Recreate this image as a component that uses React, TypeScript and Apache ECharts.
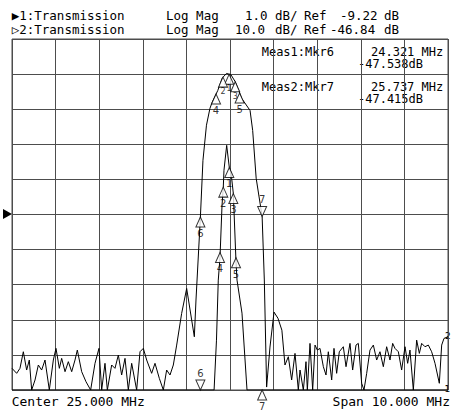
import React, { useEffect, useRef } from 'react';
import * as echarts from 'echarts';

// Sweep settings (from the annotations)
const freqStart = 20;
const freqStop = 30;
const trace1Ref = -9.22; // dB, 1 dB/div
const trace1Scale = 1;
const trace2Ref = -46.84; // dB, 10 dB/div
const trace2Scale = 10;

// Trace 1 (1 dB/div) – narrow view of passband, clipped at bottom edge
const trace1Freq = [20.0, 24.635, 24.69, 24.731, 24.771, 24.817, 24.846, 24.862, 24.924, 24.984, 25.023, 25.076, 25.138, 25.161, 25.275, 25.39, 30.0];
const trace1Value = [-14.22, -14.22, -12.8, -11.09, -10.44, -8.96, -8.44, -7.96, -7.25, -7.88, -8.02, -8.62, -10.58, -11.09, -12.03, -14.22, -14.22];

// Trace 2 (10 dB/div) – full response incl. noise floor
const trace2Freq = [
  20.0, 20.107, 20.183, 20.26, 20.336, 20.397, 20.451, 20.528, 20.604, 20.68, 20.757, 20.856, 20.948, 21.009, 21.086, 21.139,
  21.216, 21.292, 21.369, 21.445, 21.498, 21.598, 21.697, 21.804, 21.904, 21.995, 22.057, 22.133, 22.187, 22.286, 22.362, 22.439,
  22.515, 22.592, 22.668, 22.745, 22.859, 22.936, 23.012, 23.089, 23.203, 23.28, 23.379, 23.471, 23.547, 23.624, 23.7, 23.777,
  23.891, 24.006, 24.182, 24.22, 24.321, 24.38, 24.46, 24.54, 24.59, 24.72, 24.82, 24.92, 25.02, 25.12, 25.2, 25.27, 25.46,
  25.52, 25.6, 25.737, 25.787, 25.84, 25.917, 26.01, 26.1, 26.19, 26.261, 26.338, 26.414, 26.491, 26.567, 26.606, 26.682,
  26.743, 26.774, 26.835, 26.896, 26.95, 27.003, 27.064, 27.141, 27.202, 27.255, 27.332, 27.385, 27.446, 27.507, 27.599, 27.661,
  27.752, 27.813, 27.89, 27.943, 28.02, 28.073, 28.135, 28.211, 28.288, 28.364, 28.44, 28.517, 28.593, 28.67, 28.731, 28.784,
  28.861, 28.937, 29.014, 29.075, 29.128, 29.205, 29.281, 29.343, 29.396, 29.472, 29.549, 29.625, 29.702, 29.801, 29.855, 29.908,
  30.0,
];
const trace2Value = [
  -90.67, -92.09, -90.67, -85.94, -91.15, -88.3, -96.84, -93.99, -89.72, -91.15, -88.3, -96.84, -88.3, -84.98, -90.67, -87.83,
  -91.62, -88.77, -91.62, -88.3, -85.46, -91.62, -94.48, -96.84, -89.24, -84.98, -96.84, -89.24, -96.84, -89.72, -90.67, -86.88,
  -92.57, -87.83, -96.84, -89.24, -96.84, -85.94, -84.98, -88.3, -92.09, -89.24, -93.52, -96.84, -91.15, -92.57, -89.72, -84.04,
  -75.02, -67.91, -81.67, -71.2, -47.538, -31.4, -21.4, -16.6, -14.9, -11.5, -8.0, -6.65, -7.0, -9.0, -11.5, -13.8, -17.2,
  -22.9, -36.5, -47.415, -65.5, -96.0, -84.6, -74.65, -76.4, -79.8, -89.72, -87.36, -93.99, -86.41, -96.84, -91.15, -96.84,
  -88.77, -96.84, -83.56, -96.84, -84.04, -85.46, -84.98, -90.2, -92.57, -85.94, -93.99, -84.98, -92.09, -85.94, -84.51, -90.2,
  -83.56, -91.15, -84.04, -83.56, -94.93, -96.84, -92.09, -85.46, -84.04, -88.3, -85.94, -90.2, -84.51, -88.3, -83.56, -84.98,
  -85.94, -91.15, -84.51, -89.24, -85.46, -96.84, -82.62, -86.41, -83.56, -84.51, -84.04, -85.94, -89.24, -94.93, -84.04, -82.14,
  -81.67,
];

// Markers
const trace1MarkerLabel = ['1', '2', '3', '4', '5', '6', '7'];
const trace1MarkerFreq = [24.984, 24.846, 25.076, 24.771, 25.138, 24.321, 25.737];
const trace1MarkerValue = [-7.88, -8.44, -8.62, -10.3, -10.45, -14.22, -14.22];
const trace1MarkersDown = ['6'];

const trace2MarkerLabel = ['1', '2', '3', '4', '5', '6', '7'];
const trace2MarkerFreq = [24.98, 24.84, 25.12, 24.68, 25.22, 24.321, 25.737];
const trace2MarkerValue = [-6.9, -7.7, -9.0, -12.5, -12.2, -47.538, -47.415];
const trace2MarkersDown = ['7'];
const smallLabelMarkers = ['1', '2', '3'];

const headerRow1 = ['\u25B61:Transmission', 'Log Mag', '1.0', 'dB/', 'Ref', '-9.22', 'dB'];
const headerRow2 = ['\u25B72:Transmission', 'Log Mag', '10.0', 'dB/', 'Ref', '-46.84', 'dB'];
const measLines = ['Meas1:Mkr6', '24.321 MHz', '-47.538dB', 'Meas2:Mkr7', '25.737 MHz', '-47.415dB'];
const footer = ['Center 25.000 MHz', 'Span 10.000 MHz'];

const GRID = '#4d4d4d';
const MONO = "'DejaVu Sans Mono', monospace";

function markerSeries(labels: string[], freqs: number[], vals: number[], down: string[], yAxisIndex: number, small: string[]) {
  return {
    type: 'scatter',
    yAxisIndex,
    clip: false,
    z: 5,
    symbol: 'triangle',
    symbolSize: [9, 10],
    itemStyle: { color: '#fff', borderColor: '#000', borderWidth: 1 },
    label: { show: true, formatter: '{b}', color: '#000', fontSize: 10, fontFamily: 'DejaVu Sans' },
    data: labels.map((n, i) => {
      const isDown = down.includes(n);
      return {
        name: n,
        value: [freqs[i], vals[i]],
        symbolRotate: isDown ? 180 : 0,
        symbolOffset: [0, isDown ? -5 : 5],
        label: { position: isDown ? 'top' : 'bottom', distance: small.includes(n) ? 0 : 1, fontSize: small.includes(n) ? 8 : 10 },
      };
    }),
  };
}

export default function App() {
  const ref = useRef<HTMLDivElement>(null);
  useEffect(() => {
    if (!ref.current) return;
    const chart = echarts.init(ref.current, null, { renderer: 'svg' });
    const txt = (text: string, x: number, y: number, size = 13, align = 'left') => ({
      type: 'text',
      x,
      y,
      silent: true,
      style: { text, fontSize: size, fontFamily: MONO, fill: '#000', align, verticalAlign: 'middle' },
    });
    const row1X = [11.7, 166, 245, 275, 304, 340, 384];
    const row2X = [11.7, 166, 235, 275, 304, 330, 384];

    const option: any = {
      animation: false,
      backgroundColor: '#fff',
      grid: { left: 12, top: 39, width: 436, height: 351, show: true, borderColor: GRID, borderWidth: 1, backgroundColor: 'transparent' },
      xAxis: {
        type: 'value', min: freqStart, max: freqStop, interval: 1,
        axisLine: { show: false }, axisTick: { show: false }, axisLabel: { show: false },
        splitLine: { show: true, lineStyle: { color: GRID, width: 1 } },
      },
      yAxis: [
        {
          type: 'value', min: 0, max: 10, interval: 1,
          axisLine: { show: false }, axisTick: { show: false }, axisLabel: { show: false },
          splitLine: { show: true, lineStyle: { color: GRID, width: 1 } },
        },
        { type: 'value', show: false, min: trace1Ref - 5 * trace1Scale, max: trace1Ref + 5 * trace1Scale, splitLine: { show: false } },
        { type: 'value', show: false, min: trace2Ref - 5 * trace2Scale, max: trace2Ref + 5 * trace2Scale, splitLine: { show: false } },
      ],
      series: [
        {
          type: 'line', yAxisIndex: 1, symbol: 'none', z: 3,
          lineStyle: { color: '#000', width: 1 },
          data: trace1Freq.map((f, i) => [f, trace1Value[i]]),
        },
        {
          type: 'line', yAxisIndex: 2, symbol: 'none', z: 3,
          lineStyle: { color: '#000', width: 1 },
          data: trace2Freq.map((f, i) => [f, trace2Value[i]]),
        },
        markerSeries(trace1MarkerLabel, trace1MarkerFreq, trace1MarkerValue, trace1MarkersDown, 1, []),
        markerSeries(trace2MarkerLabel, trace2MarkerFreq, trace2MarkerValue, trace2MarkersDown, 2, smallLabelMarkers),
      ],
      graphic: [
        ...headerRow1.map((t, i) => txt(t, row1X[i], 15, 12.5)),
        ...headerRow2.map((t, i) => txt(t, row2X[i], 29, 12.5)),
        txt(measLines[0], 261.7, 51.7, 12),
        txt(measLines[1], 371, 51.7, 12),
        txt(measLines[2], 358, 64, 12),
        txt(measLines[3], 261.7, 86.7, 12),
        txt(measLines[4], 371, 86.7, 12),
        txt(measLines[5], 358, 99, 12),
        txt(footer[0], 11.7, 401.7, 13),
        txt(footer[1], 450, 401.7, 13, 'right'),
        {
          type: 'polygon', silent: true,
          shape: { points: [[3, 209], [12, 214], [3, 219]] },
          style: { fill: '#000' },
        },
        { type: 'text', x: 445, y: 336, silent: true, style: { text: '2', fontSize: 9, fontFamily: 'DejaVu Sans', fill: '#000', verticalAlign: 'middle' } },
        { type: 'text', x: 444.5, y: 389, silent: true, style: { text: '1', fontSize: 9, fontFamily: 'DejaVu Sans', fill: '#000', verticalAlign: 'middle' } },
      ],
    };
    chart.setOption(option);
    return () => chart.dispose();
  }, []);
  return <div ref={ref} style={{ position: 'absolute', left: 0, top: 0, width: 451, height: 414, background: '#fff' }} />;
}
